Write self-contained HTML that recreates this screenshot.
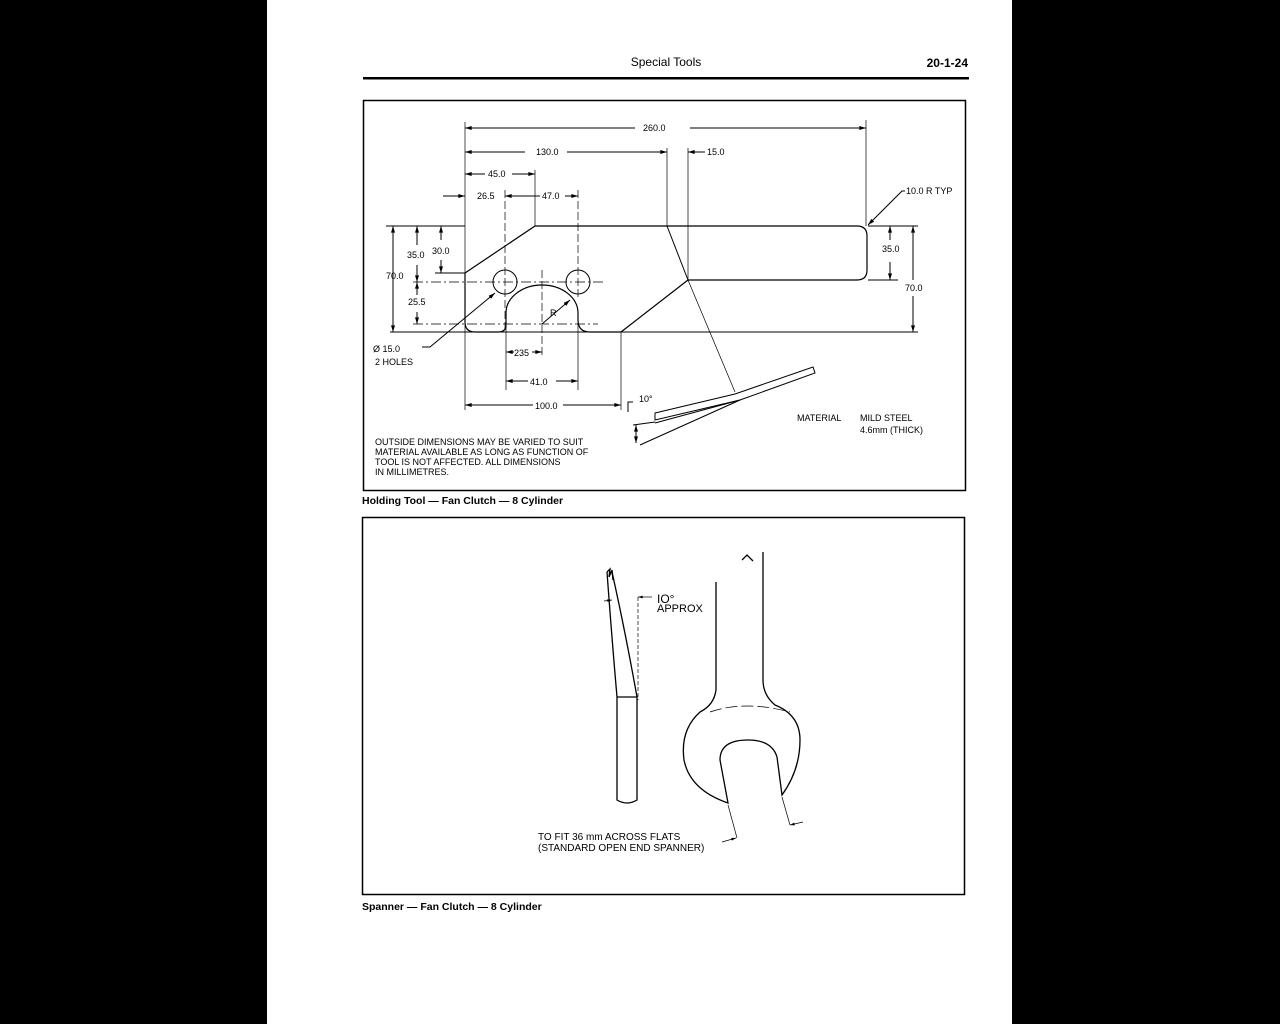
<!DOCTYPE html>
<html><head><meta charset="utf-8"><style>
html,body{margin:0;padding:0;background:#000;}
body{width:1280px;height:1024px;position:relative;overflow:hidden;font-family:"Liberation Sans",sans-serif;}
.page{position:absolute;left:267px;top:0;width:745px;height:1024px;background:#fff;}
svg{position:absolute;left:0;top:0;}
</style></head><body>
<div class="page"></div>
<svg width="1280" height="1024" viewBox="0 0 1280 1024" font-family="Liberation Sans, sans-serif">
<defs>
<marker id="a" viewBox="0 0 10 6" refX="10" refY="3" markerWidth="8" markerHeight="4" orient="auto-start-reverse"><path d="M0,0L10,3L0,6z" fill="#000"/></marker>
</defs>
<text x="666" y="66" font-size="12" text-anchor="middle">Special Tools</text>
<text x="968" y="67" font-size="12" font-weight="bold" text-anchor="end">20-1-24</text>
<rect x="363" y="77" width="606" height="2.5" fill="#000"/>
<rect x="363.5" y="100.5" width="602" height="390" fill="none" stroke="#000" stroke-width="1.5"/>
<text x="362" y="504" font-size="10.5" font-weight="bold">Holding Tool — Fan Clutch — 8 Cylinder</text>
<rect x="362.5" y="517.5" width="602" height="377" fill="none" stroke="#000" stroke-width="1.5"/>
<text x="362" y="910" font-size="10.5" font-weight="bold">Spanner — Fan Clutch — 8 Cylinder</text>

<g stroke="#000" fill="none" stroke-width="1">
<!-- outline -->
<path d="M465,273 L535,226 L857,226 Q867,226 867,236 L867,270 Q867,280 857,280 L688,280 L621,332 L590,332 Q578,332 578,320 L578,313 A36,28 0 0 0 506,313 L506,325 Q506,332 498,332 L475,332 Q465,332 465,322 Z" stroke-width="1.2"/>
<line x1="667" y1="226" x2="688" y2="280"/>
<circle cx="505" cy="282" r="12"/><circle cx="578" cy="282" r="12"/>
<line x1="390" y1="332" x2="918" y2="332"/>
<line x1="386" y1="226" x2="465" y2="226"/>
<line x1="868" y1="226" x2="918" y2="226"/>
<line x1="868" y1="280" x2="898" y2="280"/>
<line x1="413" y1="282" x2="605" y2="282" stroke-dasharray="10,3,2,3" stroke-width="0.7"/>
<line x1="413" y1="324" x2="598" y2="324" stroke-dasharray="10,3,2,3" stroke-width="0.7"/>
<line x1="435" y1="273" x2="465" y2="273"/>
<g stroke-width="0.7">
<line x1="465" y1="122" x2="465" y2="410"/>
<line x1="866" y1="120" x2="866" y2="226"/>
<line x1="667" y1="148" x2="667" y2="226"/>
<line x1="688" y1="148" x2="688" y2="280"/>
<line x1="535" y1="170" x2="535" y2="226"/>
<line x1="505" y1="190" x2="505" y2="330" stroke-dasharray="8,3"/>
<line x1="578" y1="190" x2="578" y2="300" stroke-dasharray="8,3"/>
<line x1="542" y1="270" x2="542" y2="355" stroke-dasharray="8,3"/>
<line x1="506" y1="318" x2="506" y2="390"/>
<line x1="578" y1="318" x2="578" y2="390"/>
<line x1="621" y1="332" x2="621" y2="410"/>
<line x1="688" y1="280" x2="735" y2="392"/>
</g>
<line x1="465" y1="128" x2="635" y2="128" marker-start="url(#a)"/><line x1="690" y1="128" x2="866" y2="128" marker-end="url(#a)"/>
<line x1="465" y1="152" x2="525" y2="152" marker-start="url(#a)"/><line x1="567" y1="152" x2="667" y2="152" marker-end="url(#a)"/>
<line x1="688" y1="152" x2="705" y2="152" marker-start="url(#a)"/>
<line x1="465" y1="174" x2="485" y2="174" marker-start="url(#a)"/><line x1="512" y1="174" x2="535" y2="174" marker-end="url(#a)"/>
<line x1="443" y1="196" x2="465" y2="196" marker-end="url(#a)"/>
<line x1="505" y1="196" x2="540" y2="196" marker-start="url(#a)"/><line x1="565" y1="196" x2="578" y2="196" marker-end="url(#a)"/>
<line x1="393" y1="226" x2="393" y2="332" marker-start="url(#a)" marker-end="url(#a)"/>
<line x1="417" y1="226" x2="417" y2="245" marker-start="url(#a)"/><line x1="417" y1="265" x2="417" y2="282" marker-end="url(#a)"/>
<line x1="441" y1="226" x2="441" y2="240" marker-start="url(#a)"/><line x1="441" y1="260" x2="441" y2="273" marker-end="url(#a)"/>
<line x1="417" y1="282" x2="417" y2="295" marker-start="url(#a)"/><line x1="417" y1="312" x2="417" y2="324" marker-end="url(#a)"/>
<line x1="890" y1="226" x2="890" y2="240" marker-start="url(#a)"/><line x1="890" y1="262" x2="890" y2="280" marker-end="url(#a)"/>
<line x1="913" y1="226" x2="913" y2="280" marker-start="url(#a)"/><line x1="913" y1="296" x2="913" y2="332" marker-end="url(#a)"/>
<line x1="506" y1="352" x2="514" y2="352" marker-start="url(#a)"/><line x1="532" y1="352" x2="542" y2="352" marker-end="url(#a)"/>
<line x1="506" y1="381" x2="528" y2="381" marker-start="url(#a)"/><line x1="556" y1="381" x2="578" y2="381" marker-end="url(#a)"/>
<line x1="465" y1="405" x2="533" y2="405" marker-start="url(#a)"/><line x1="563" y1="405" x2="621" y2="405" marker-end="url(#a)"/>
<path d="M422,347 L430,347 L495,293" marker-end="url(#a)"/>
<line x1="542" y1="324" x2="570" y2="300" marker-end="url(#a)"/>
<path d="M905,191 L902,191 L868,225" marker-end="url(#a)"/>
<!-- side view -->
<path d="M655,413 L735,394 L813,367 L815,373 L740,400 L655,420 Z"/>
<line x1="655" y1="423" x2="740" y2="400"/>
<line x1="640" y1="445" x2="740" y2="400"/>
<line x1="633" y1="425" x2="655" y2="422"/>
<path d="M628,412 L628,402 L633,402"/>
<line x1="636" y1="425" x2="636" y2="443" marker-start="url(#a)" marker-end="url(#a)"/>
</g>
<g font-size="9" fill="#000">
<text x="643" y="131">260.0</text>
<text x="536" y="155">130.0</text>
<text x="707" y="155">15.0</text>
<text x="488" y="177">45.0</text>
<text x="477" y="199">26.5</text>
<text x="542" y="199">47.0</text>
<text x="906" y="194">10.0 R TYP</text>
<text x="407" y="258">35.0</text><text x="432" y="254">30.0</text>
<text x="386" y="279">70.0</text>
<text x="408" y="305">25.5</text>
<text x="882" y="252">35.0</text>
<text x="905" y="291">70.0</text>
<text x="550" y="316">R</text>
<text x="373" y="352">Ø 15.0</text><text x="375" y="365">2 HOLES</text>
<text x="514" y="356">235</text>
<text x="530" y="385">41.0</text>
<text x="535" y="409">100.0</text>
<text x="639" y="402">10°</text>
<text x="797" y="421">MATERIAL</text>
<text x="860" y="421">MILD STEEL</text>
<text x="860" y="433">4.6mm (THICK)</text>
</g>
<g font-size="9" fill="#000">
<text x="375" y="445">OUTSIDE DIMENSIONS MAY BE VARIED TO SUIT</text>
<text x="375" y="455">MATERIAL AVAILABLE AS LONG AS FUNCTION OF</text>
<text x="375" y="465">TOOL IS NOT AFFECTED. ALL DIMENSIONS</text>
<text x="375" y="475">IN MILLIMETRES.</text>
</g>

<!-- spanner -->
<g stroke="#000" fill="none" stroke-width="1.3">
<path d="M607,572 L610,569 L609,577 L612,570 L613,580"/>
<path d="M607,572 Q612,640 617,697 L617,800 Q627,806 637,800 L637,697 Q625,630 612,572"/>
<line x1="617" y1="697" x2="637" y2="697"/>
<path d="M716,582 L716,690 Q714,705 700,712 Q680,730 684,760 Q690,790 728,803 L720,760 Q720,740 748,740 Q772,740 777,757 L782,795 Q800,770 800,740 Q800,715 775,705 Q763,695 763,680 L763,552"/>
<path d="M742,560 L747,555 L753,561"/>
<path d="M710,712 Q745,700 790,712" stroke-width="0.7" stroke-dasharray="12,4"/>
</g>
<g stroke="#000" fill="none" stroke-width="0.7">
<line x1="638" y1="597" x2="638" y2="700" stroke-dasharray="4,2"/>
<line x1="604" y1="601" x2="612" y2="600" marker-end="url(#a)"/>
<line x1="652" y1="597" x2="638" y2="597" marker-end="url(#a)"/>
<line x1="728" y1="805" x2="737" y2="838"/>
<line x1="782" y1="797" x2="790" y2="825"/>
<line x1="722" y1="842" x2="736" y2="838" marker-end="url(#a)"/>
<line x1="803" y1="822" x2="790" y2="825" marker-end="url(#a)"/>
</g>
<g font-size="10" fill="#000">
<text x="657" y="603" font-size="12">IO°</text>
<text x="657" y="612" font-size="11">APPROX</text>
<text x="538" y="840">TO FIT 36 mm ACROSS FLATS</text>
<text x="538" y="851">(STANDARD OPEN END SPANNER)</text>
</g>
</svg>
</body></html>
